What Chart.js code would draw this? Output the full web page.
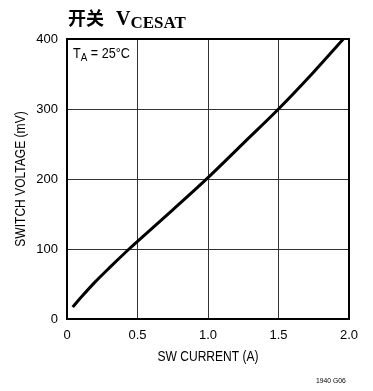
<!DOCTYPE html>
<html>
<head>
<meta charset="utf-8">
<script src="https://cdn.jsdelivr.net/npm/chart.js@4/dist/chart.umd.min.js"></script>
<style>
  html, body { margin: 0; padding: 0; background: #fff; }
  #wrap { position: relative; width: 373px; height: 391px; overflow: hidden; }
  #c { position: absolute; left: 0; top: 0; }
  .title { position: absolute; left: 68px; top: 8px; white-space: nowrap; color: #000; font-weight: bold; line-height: 1; }
  .title .cjk { font-family: "Noto Sans CJK SC", sans-serif; font-size: 18px; }
  .title .v { font-family: "Liberation Serif", "Times New Roman", serif; font-size: 20px; margin-left: 12px; }
  .title .sub { font-family: "Liberation Serif", "Times New Roman", serif; font-size: 17px; position: relative; top: 3px; }
  .note { position: absolute; left: 73px; top: 46px; font-family: "Liberation Sans", Arial, sans-serif; font-size: 14px; color: #000; white-space: nowrap; line-height: 1; transform: scaleX(0.9); transform-origin: 0 0; }
  .note sub { font-size: 11px; vertical-align: baseline; position: relative; top: 3px; }
  .code { position: absolute; left: 316px; top: 376px; font-family: "Liberation Sans", Arial, sans-serif; font-size: 8px; color: #000; white-space: nowrap; transform: scaleX(0.85); transform-origin: 0 0; }
</style>
</head>
<body>
<div id="wrap">
  <canvas id="c" width="373" height="391"></canvas>
  <div class="title"><span class="cjk">开关</span><span class="v">V</span><span class="sub">CESAT</span></div>
  <div class="note">T<sub>A</sub> = 25°C</div>
  <div class="code">1940 G06</div>
</div>
<script>
// Switch saturation voltage vs. switch current
const swCurrent = [0.04, 0.1, 0.2, 0.3, 0.44, 0.5, 0.75, 1.0, 1.25, 1.5, 1.75, 1.96];   // A
const swVoltage = [17, 31, 53, 73, 100, 111, 156, 202, 251, 300, 353, 400];             // mV
const xTicks = [0, 0.5, 1.0, 1.5, 2.0];
const yTicks = [0, 100, 200, 300, 400];
const xTitle = 'SW CURRENT (A)';
const yTitle = 'SWITCH VOLTAGE (mV)';

const points = swCurrent.map((x, i) => ({ x: x, y: swVoltage[i] }));

// heavy frame around the plotting area
const framePlugin = {
  id: 'frame',
  afterDraw(chart) {
    const { ctx, chartArea: a } = chart;
    ctx.save();
    ctx.strokeStyle = '#000';
    ctx.lineWidth = 2;
    ctx.strokeRect(a.left, a.top, a.right - a.left, a.bottom - a.top);
    ctx.restore();
  }
};

// axis titles in a condensed sans face (horizontally compressed)
const axisTitlePlugin = {
  id: 'axisTitles',
  afterDraw(chart) {
    const { ctx, chartArea: a } = chart;
    const squeeze = 0.86;
    ctx.save();
    ctx.fillStyle = '#000';
    ctx.font = '14px "Liberation Sans", Arial, sans-serif';
    ctx.textAlign = 'center';
    ctx.textBaseline = 'middle';
    // x title
    ctx.save();
    ctx.translate((a.left + a.right) / 2, a.bottom + 38);
    ctx.scale(squeeze, 1);
    ctx.fillText(xTitle, 0, 0);
    ctx.restore();
    // y title
    ctx.save();
    ctx.translate(21, (a.top + a.bottom) / 2);
    ctx.rotate(-Math.PI / 2);
    ctx.scale(squeeze, 1);
    ctx.fillText(yTitle, 0, 0);
    ctx.restore();
    ctx.restore();
  }
};

const tickFont = { family: '"Liberation Sans", Arial, sans-serif', size: 13 };

new Chart(document.getElementById('c'), {
  type: 'line',
  data: {
    datasets: [{
      data: points,
      borderColor: '#000',
      borderWidth: 3,
      pointRadius: 0,
      fill: false,
      tension: 0.35,
      borderCapStyle: 'butt'
    }]
  },
  options: {
    responsive: false,
    devicePixelRatio: 1,
    animation: false,
    layout: { padding: { left: 0, top: 39, right: 24, bottom: 0 } },
    plugins: { legend: { display: false }, tooltip: { enabled: false } },
    scales: {
      x: {
        type: 'linear',
        min: xTicks[0],
        max: xTicks[xTicks.length - 1],
        afterBuildTicks(s) { s.ticks = xTicks.map(v => ({ value: v })); },
        afterFit(s) { s.height = 72; },
        ticks: {
          color: '#000',
          font: tickFont,
          padding: 9,
          maxRotation: 0,
          callback: v => (v === 0 ? '0' : v.toFixed(1))
        },
        grid: { color: '#333', lineWidth: 1, drawTicks: false },
        border: { display: false }
      },
      y: {
        type: 'linear',
        min: yTicks[0],
        max: yTicks[yTicks.length - 1],
        afterBuildTicks(s) { s.ticks = yTicks.map(v => ({ value: v })); },
        afterFit(s) { s.width = 67; },
        ticks: { color: '#000', font: tickFont, padding: 9 },
        grid: { color: '#333', lineWidth: 1, drawTicks: false },
        border: { display: false }
      }
    }
  },
  plugins: [framePlugin, axisTitlePlugin]
});
</script>
</body>
</html>
